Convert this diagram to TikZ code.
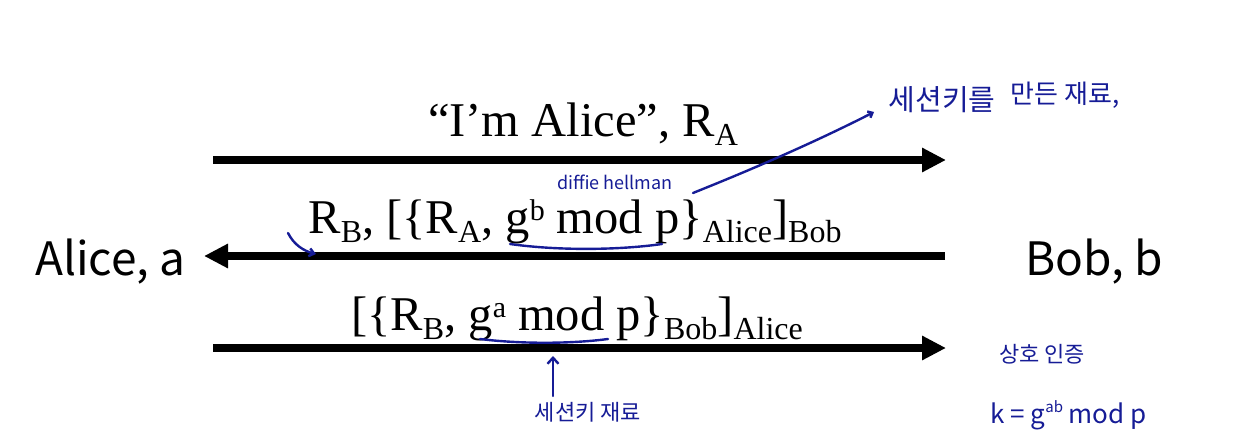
\documentclass[tikz,border=0pt]{standalone}
\usepackage{fontspec}
\setmainfont{Liberation Serif}
\newfontfamily\sansf{Noto Sans CJK KR}
\newfontfamily\korf{Noto Sans CJK KR}
\usetikzlibrary{arrows.meta}
\definecolor{hand}{RGB}{22,28,150}
\newcommand\subt[1]{\raisebox{-9pt}{\fontsize{32pt}{32pt}\selectfont #1}}
\newcommand\supt[1]{\raisebox{13pt}{\fontsize{30pt}{30pt}\selectfont #1}}
\begin{document}
\begin{tikzpicture}[x=1pt,y=1pt,
  msg/.style={line width=7.5pt,-{Triangle[length=24pt,width=23pt]}},
  lbl/.style={anchor=base,inner sep=0pt,font=\fontsize{48.5pt}{48.5pt}\selectfont},
  party/.style={anchor=base west,inner sep=0pt,font=\sansf\fontsize{46pt}{46pt}\selectfont},
  pen/.style={draw=hand,line width=2.4pt,line cap=round},
  note/.style={text=hand,inner sep=0pt,font=\korf\fontsize{#1}{#1}\selectfont},
  note/.default=24pt]
\useasboundingbox (0,0) rectangle (1246,440);
% parties
\node[party] (alice) at (35,165) {Alice, a};
\node[party] (bob) at (1025,165) {Bob, b};
% arrow end points
\coordinate (m1s) at (213,280); \coordinate (m1e) at (946,280);
\coordinate (m2s) at (945,184); \coordinate (m2e) at (204,184);
\coordinate (m3s) at (213,92);  \coordinate (m3e) at (946,92);
\draw[msg] (m1s) -- (m1e);
\draw[msg] (m2s) -- (m2e);
\draw[msg] (m3s) -- (m3e);
% labels
\node[lbl] (l1) at (583,304) {“I’m Alice”, R\subt{A}};
\node[lbl] (l2) at (575,207) {R\subt{B}, [\{R\subt{A}, g\supt{b} mod p\}\subt{Alice}]\subt{Bob}};
\node[lbl] (l3) at (577,110) {[\{R\subt{B}, g\supt{a} mod p\}\subt{Bob}]\subt{Alice}};
% handwritten annotations
\coordinate (u2a) at (510,196); \coordinate (u2b) at (662,196);
\draw[pen] (u2a) .. controls (560,189) and (620,190) .. (u2b);
\node[note=18pt] (dh) at (615,258) {diffie hellman};
\coordinate (c1a) at (693,247); \coordinate (c1b) at (874,328);
\draw[pen,-{Straight Barb[length=4pt,width=7pt]}] (c1a) .. controls (700,250) and (790,285) .. (c1b);
\node[note=29pt] (k1) at (942,340) {세션키를};
\node[note=26pt] (k2) at (1065,345) {만든 재료,};
\coordinate (c2a) at (288,207); \coordinate (c2b) at (316,186);
\draw[pen,-{Straight Barb[length=5pt,width=8pt]}] (c2a) .. controls (294,195) and (304,189) .. (c2b);
\coordinate (u3a) at (480,101); \coordinate (u3b) at (608,101);
\draw[pen] (u3a) .. controls (520,96) and (570,96) .. (u3b);
\coordinate (v3a) at (553,44); \coordinate (v3b) at (553,84);
\draw[pen,-{Straight Barb[length=6pt,width=11pt]}] (v3a) -- (v3b);
\node[note=22pt] (k3) at (588,28) {세션키 재료};
\node[note=22pt] (k4) at (1042,86) {상호 인증};
\node[note=26pt,anchor=base west] (k5) at (990,17) {k = g\raisebox{11pt}{\fontsize{15pt}{15pt}\selectfont ab} mod p};
\end{tikzpicture}
\end{document}
